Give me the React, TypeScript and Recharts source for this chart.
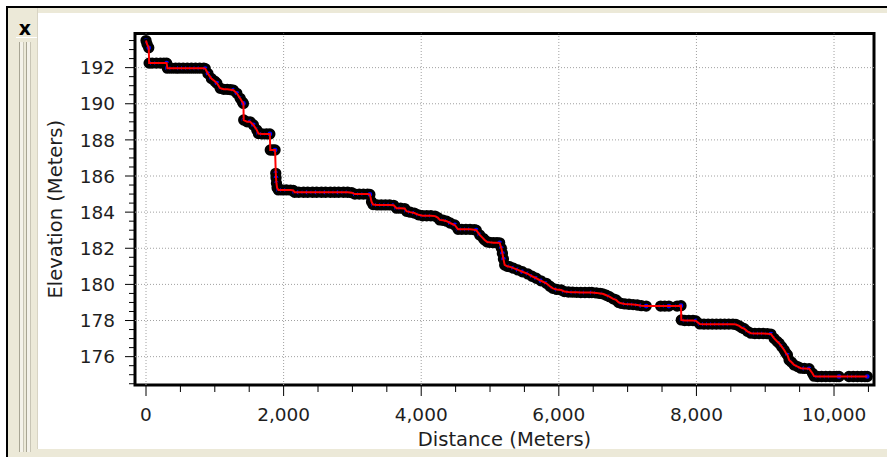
import React from 'react';
import { LineChart, Line, XAxis, YAxis, ReferenceLine, ReferenceArea } from 'recharts';

// ---- data ----
const distances = [
  0, 15, 40, 45, 90, 150, 210, 260, 300, 310, 370, 430, 480, 540, 600, 660, 720, 780, 840, 860,
  900, 950, 1000, 1030, 1078, 1130, 1180, 1230, 1271, 1320, 1368, 1400, 1416, 1420, 1470, 1513,
  1561, 1610, 1634, 1690, 1750, 1800, 1806, 1845, 1876, 1886, 1890, 1896, 1905, 1924, 1980, 2040,
  2100, 2141, 2160, 2220, 2290, 2350, 2420, 2480, 2550, 2610, 2680, 2740, 2800, 2870, 2930, 2990,
  3036, 3100, 3160, 3220, 3254, 3278, 3300, 3360, 3420, 3480, 3540, 3600, 3641, 3700, 3760, 3786,
  3840, 3900, 3960, 4020, 4080, 4140, 4200, 4240, 4270, 4317, 4370, 4420, 4487, 4535, 4590, 4650,
  4710, 4770, 4800, 4850, 4900, 4922, 4960, 4995, 5050, 5100, 5140, 5165, 5180, 5195, 5213, 5250,
  5285, 5340, 5405, 5470, 5550, 5610, 5672, 5740, 5818, 5870, 5913, 5970, 6035, 6080, 6140, 6200,
  6260, 6320, 6380, 6440, 6480, 6545, 6600, 6638, 6690, 6736, 6790, 6833, 6870, 6905, 6960, 7020,
  7080, 7140, 7200, 7270, 7480, 7540, 7600, 7720, 7776, 7780, 7830, 7890, 7950, 7993, 8050, 8110,
  8170, 8230, 8290, 8350, 8410, 8470, 8530, 8574, 8622, 8660, 8695, 8740, 8792, 8850, 8910, 8970,
  9030, 9082, 9130, 9170, 9202, 9240, 9275, 9300, 9323, 9347, 9380, 9420, 9470, 9517, 9570, 9638,
  9686, 9710, 9760, 9820, 9880, 9940, 10000, 10040, 10073, 10217, 10280, 10340, 10400, 10450, 10483,
];

const elevations = [
  193.5, 193.3, 193.1, 192.25, 192.25, 192.25, 192.25, 192.25, 192.25, 191.97, 191.97, 191.97, 191.97, 191.97, 191.97, 191.97, 191.97, 191.97, 191.97, 191.95,
  191.67, 191.4, 191.25, 191.14, 190.86, 190.8, 190.8, 190.78, 190.75, 190.58, 190.3, 190.1, 190.02, 189.1, 189.0, 189.0,
  188.83, 188.55, 188.35, 188.33, 188.33, 188.33, 187.44, 187.44, 187.44, 186.15, 185.9, 185.6, 185.35, 185.23, 185.23, 185.23,
  185.22, 185.2, 185.1, 185.1, 185.1, 185.1, 185.1, 185.1, 185.1, 185.1, 185.1, 185.1, 185.1, 185.1, 185.1, 185.08,
  185.0, 185.0, 185.0, 185.0, 184.98, 184.58, 184.42, 184.4, 184.4, 184.4, 184.4, 184.38, 184.22, 184.22, 184.2, 184.05,
  184.0, 183.95, 183.85, 183.8, 183.8, 183.8, 183.78, 183.7, 183.57, 183.55, 183.5, 183.4, 183.29, 183.05, 183.05, 183.05,
  183.05, 183.03, 183.0, 182.74, 182.55, 182.46, 182.35, 182.33, 182.31, 182.31, 182.3, 182.0, 181.72, 181.4, 181.08, 181.0,
  180.98, 180.9, 180.8, 180.7, 180.58, 180.45, 180.34, 180.2, 180.06, 179.9, 179.78, 179.72, 179.69, 179.6, 179.58, 179.57,
  179.56, 179.55, 179.55, 179.55, 179.55, 179.53, 179.5, 179.48, 179.4, 179.32, 179.2, 179.14, 179.0, 178.95, 178.92, 178.9,
  178.88, 178.86, 178.82, 178.8, 178.8, 178.8, 178.8, 178.8, 178.82, 178.03, 178.0, 178.0, 178.0, 177.98, 177.81, 177.8,
  177.8, 177.8, 177.8, 177.8, 177.8, 177.8, 177.8, 177.78, 177.7, 177.6, 177.55, 177.4, 177.3, 177.28, 177.28, 177.28,
  177.27, 177.25, 177.01, 176.85, 176.74, 176.55, 176.37, 176.2, 176.09, 175.82, 175.7, 175.54, 175.45, 175.36, 175.35, 175.33,
  175.08, 174.92, 174.9, 174.9, 174.9, 174.9, 174.9, 174.9, 174.9, 174.9, 174.9, 174.9, 174.9, 174.9, 174.9,
];

const xMajorTicks = [0, 2000, 4000, 6000, 8000, 10000];
const xMinorTicks = [500, 1000, 1500, 2500, 3000, 3500, 4500, 5000, 5500, 6500, 7000, 7500, 8500, 9000, 9500, 10500];
const yMajorTicks = [176, 178, 180, 182, 184, 186, 188, 190, 192];
const yMinorTicks = [174.5, 175, 175.5, 176.5, 177, 177.5, 178.5, 179, 179.5, 180.5, 181, 181.5, 182.5, 183, 183.5,
  184.5, 185, 185.5, 186.5, 187, 187.5, 188.5, 189, 189.5, 190.5, 191, 191.5, 192.5, 193, 193.5];

const X_MIN = -160;
const X_MAX = 10581;
const Y_MIN = 174.43;
const Y_MAX = 193.89;

const data = distances.map((d, i) => ({ d, e: elevations[i] }));
const xTicks = [...xMajorTicks, ...xMinorTicks].sort((a, b) => a - b);
const yTicks = [...yMajorTicks, ...yMinorTicks].sort((a, b) => a - b);

const FONT = '"DejaVu Sans", Verdana, sans-serif';
const TEXT = '#1e1e1e';
const BEIGE = '#ECE9D8';

const Y_TICK_SIZE = 10;
const Y_TICK_MARGIN = 10;
const X_TICK_SIZE = 11;
const X_TICK_MARGIN = 10;

const YTick = (props: any) => {
  const { x, y, payload } = props;
  const v = payload.value as number;
  const major = yMajorTicks.includes(v);
  const axisX = x + Y_TICK_SIZE + Y_TICK_MARGIN;
  return (
    <g>
      <line x1={axisX} x2={axisX - (major ? 10 : 6)} y1={y} y2={y} stroke="#000" strokeWidth={1} />
      {major && (
        <text x={axisX - 20} y={y} dy="0.36em" textAnchor="end" fontFamily={FONT} fontSize={18.5} fill={TEXT}>
          {v}
        </text>
      )}
    </g>
  );
};

const XTick = (props: any) => {
  const { x, y, payload } = props;
  const v = payload.value as number;
  const major = xMajorTicks.includes(v);
  const axisY = y - X_TICK_SIZE - X_TICK_MARGIN;
  return (
    <g>
      <line x1={x} x2={x} y1={axisY} y2={axisY + (major ? 11 : 7)} stroke="#000" strokeWidth={1} />
      {major && (
        <text x={x} y={axisY + 36} textAnchor="middle" fontFamily={FONT} fontSize={18.5} fill={TEXT}>
          {v.toLocaleString('en-US')}
        </text>
      )}
    </g>
  );
};

const abs = (s: React.CSSProperties): React.CSSProperties => ({ position: 'absolute', boxSizing: 'border-box', ...s });

export default function App() {
  return (
    <div style={abs({ left: 0, top: 0, width: 887, height: 457, overflow: 'hidden', background: '#fff' })}>
      {/* window frame */}
      <div style={abs({ left: 6, top: 6, width: 900, height: 470, borderTop: '2px solid #000', borderLeft: '2px solid #000' })} />
      <div style={abs({ left: 8, top: 8, width: 879, height: 5, background: BEIGE })} />
      <div style={abs({ left: 8, top: 8, width: 30, height: 449, background: BEIGE, borderRight: '1px solid #d8d4c4' })} />
      <div style={abs({ left: 8, top: 449, width: 879, height: 8, background: BEIGE })} />
      {/* close button */}
      <div style={abs({ left: 16, top: 17, width: 21, height: 21, borderBottom: '1px solid #ffffff' })} />
      <div style={abs({ left: 14, top: 17, width: 22, height: 22, fontFamily: FONT, fontWeight: 'bold', fontSize: 19, lineHeight: '22px', textAlign: 'center', color: '#000' })}>x</div>
      {/* grip bars */}
      <div style={abs({ left: 19, top: 42, width: 5, height: 410, borderLeft: '1px solid #a8a594', borderRight: '1px solid #c8c5b5', background: '#f4f2ea' })} />
      <div style={abs({ left: 26, top: 42, width: 5, height: 410, borderLeft: '1px solid #a8a594', borderRight: '1px solid #c8c5b5', background: '#f4f2ea' })} />

      <div style={abs({ left: 0, top: 0 })}>
        <LineChart width={887} height={457} data={data} margin={{ top: 33.5, right: 13, bottom: 0, left: 40 }}>
          <XAxis
            dataKey="d"
            type="number"
            domain={[X_MIN, X_MAX]}
            allowDataOverflow
            ticks={xTicks}
            interval={0}
            height={72}
            tickSize={X_TICK_SIZE}
            tickMargin={X_TICK_MARGIN}
            tickLine={false}
            axisLine={false}
            tick={<XTick />}
            label={{ value: 'Distance (Meters)', position: 'insideBottom', offset: 11, style: { fontFamily: FONT, fontSize: 19.5, fill: TEXT } }}
          />
          <YAxis
            type="number"
            domain={[Y_MIN, Y_MAX]}
            allowDataOverflow
            ticks={yTicks}
            interval={0}
            width={95}
            tickSize={Y_TICK_SIZE}
            tickMargin={Y_TICK_MARGIN}
            tickLine={false}
            axisLine={false}
            tick={<YTick />}
            label={{ value: 'Elevation (Meters)', angle: -90, position: 'insideLeft', offset: 15, style: { textAnchor: 'middle', fontFamily: FONT, fontSize: 19.5, fill: TEXT } }}
          />
          {xMajorTicks.map((v) => (
            <ReferenceLine key={'gx' + v} x={v} stroke="#a0a0a0" strokeDasharray="1 2" strokeWidth={1} />
          ))}
          {yMajorTicks.map((v) => (
            <ReferenceLine key={'gy' + v} y={v} stroke="#a0a0a0" strokeDasharray="1 2" strokeWidth={1} />
          ))}
          <Line
            dataKey="e"
            type="linear"
            stroke="none"
            dot={{ r: 4, fill: '#0000ff', stroke: '#000', strokeWidth: 3.3 }}
            activeDot={false}
            isAnimationActive={false}
            {...({ zIndex: 400 } as any)}
          />
          <Line
            dataKey="e"
            type="linear"
            stroke="#ff0000"
            strokeWidth={2}
            dot={false}
            activeDot={false}
            isAnimationActive={false}
            {...({ zIndex: 1500 } as any)}
          />
          <ReferenceArea x1={X_MIN} x2={X_MAX} y1={Y_MIN} y2={Y_MAX} fill="none" fillOpacity={0} stroke="#000" strokeWidth={3} />
        </LineChart>
      </div>
    </div>
  );
}
